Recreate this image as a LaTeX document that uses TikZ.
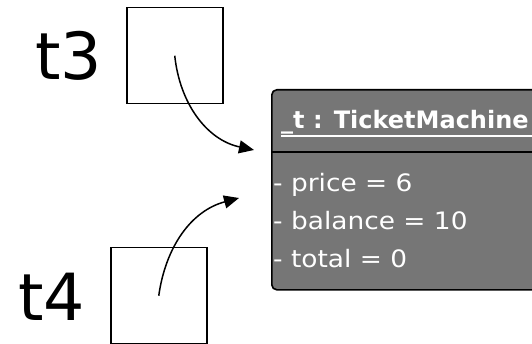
\documentclass[tikz,border=0pt]{standalone}
\usepackage{fontspec}
\usetikzlibrary{arrows.meta}
\newfontfamily\dvsans{DejaVu Sans}
\definecolor{objgray}{HTML}{767676}
\begin{document}
\begin{tikzpicture}[x=1pt,y=-1pt,
  refbox/.style={draw=black, line width=1.5pt, minimum width=96pt, minimum height=96pt, inner sep=0pt},
  varlabel/.style={font=\dvsans\fontsize{65}{65}\selectfont, inner sep=0pt, anchor=base west},
  objbox/.style={draw=black, line width=1.6pt, fill=objgray, rounded corners=5pt, inner sep=0pt, anchor=north west},
  attr/.style={text=white, inner sep=0pt, anchor=base west, font=\dvsans\fontsize{24}{24}\selectfont},
  ref/.style={line width=1.5pt, -{Triangle[length=15pt,width=13pt]}}
]
\useasboundingbox (0,0) rectangle (532,344);
\begin{scope}
\clip (0,0) rectangle (532,344);
% object box
\node[objbox, minimum width=280pt, minimum height=200pt] (obj) at (271,89) {};
\draw[line width=1.6pt] ([yshift=-63pt]obj.north west) -- ([yshift=-63pt]obj.north east);
\node[attr, font=\dvsans\bfseries\fontsize{24}{24}\selectfont] (title) at (281,129) {\_t : TicketMachine};
\coordinate (ulend) at (obj.east |- title.base);
\draw[white, line width=2pt] ([yshift=-7pt]title.base west) -- ([yshift=-7pt]ulend);
\node[attr] (a1) at (273,192) {\scalebox{1.1}[1]{- price = 6}};
\node[attr] (a2) at (273,230) {\scalebox{1.1}[1]{- balance = 10}};
\node[attr] (a3) at (273,268) {\scalebox{1.1}[1]{- total = 0}};
\end{scope}
% reference boxes
\node[refbox, anchor=north west] (b3) at (126,7) {};
\node[refbox, anchor=north west] (b4) at (110,247) {};
\node[varlabel] (l3) at (35,80) {t3};
\node[varlabel] (l4) at (18,320) {t4};
\coordinate (tip3) at (254,150);
\coordinate (tip4) at (239,198);
\draw[ref] (b3.center) to[out=-84,in=168] (tip3);
\draw[ref] (b4.center) to[out=82,in=195] (tip4);
\end{tikzpicture}
\end{document}
